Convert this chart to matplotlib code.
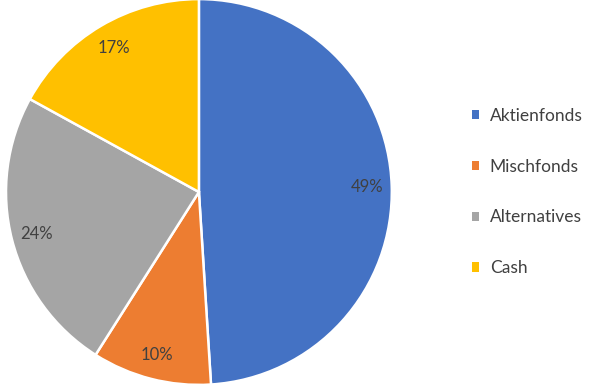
import matplotlib.pyplot as plt
from matplotlib.patches import Patch

labels = ["Aktienfonds", "Mischfonds", "Alternatives", "Cash"]
values = [49, 10, 24, 17]
colors = ["#4472C4", "#ED7D31", "#A5A5A5", "#FFC000"]

plt.rcParams["font.family"] = ["Lato", "DejaVu Sans"]
text_color = "#404040"

fig = plt.figure(figsize=(5.89, 3.88), dpi=100)
ax = fig.add_axes([0.0102, 0.0077, 0.655, 0.995])
wedges, texts, autotexts = ax.pie(
    values,
    colors=colors,
    startangle=90,
    counterclock=False,
    autopct="%d%%",
    pctdistance=0.87,
    wedgeprops=dict(edgecolor="white", linewidth=1.8),
    textprops=dict(color=text_color, fontsize=12),
)
ax.set_xlim(-1, 1)
ax.set_ylim(-1, 1)
ax.set_aspect("equal")

handles = [Patch(facecolor=c, edgecolor="none") for c in colors]
fig.legend(
    handles,
    labels,
    loc="center left",
    bbox_to_anchor=(0.774, 0.505),
    frameon=False,
    fontsize=12.5,
    labelcolor=text_color,
    handlelength=0.45,
    handleheight=0.45,
    handletextpad=0.6,
    labelspacing=2.0,
)

fig.savefig("out.png", dpi=100)
